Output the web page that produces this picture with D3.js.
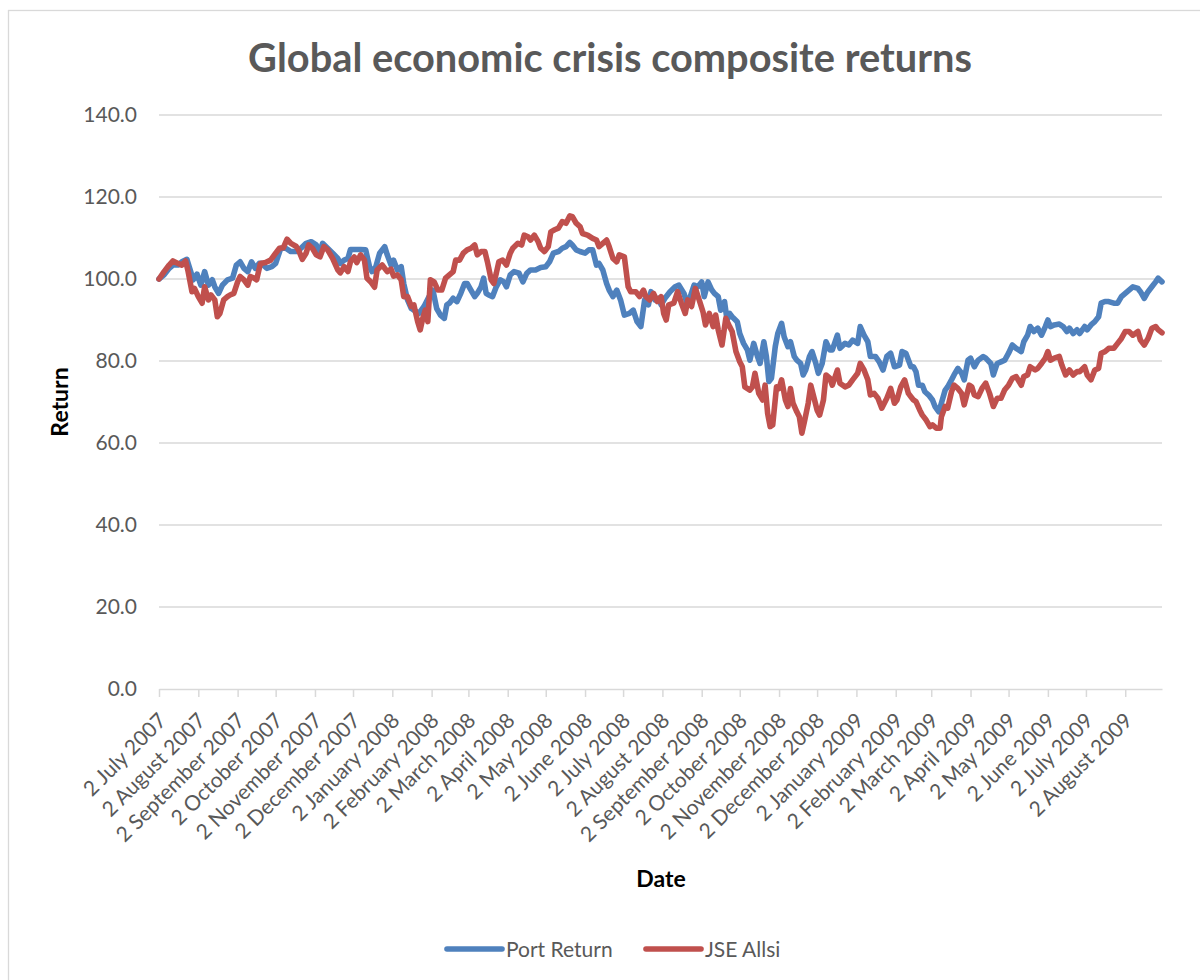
<!DOCTYPE html>
<html>
<head>
<meta charset="utf-8">
<script src="https://cdn.jsdelivr.net/npm/d3@7"></script>
<style>
  html, body { margin: 0; padding: 0; background: #fff; }
  svg { display: block; font-family: Lato, "Open Sans", sans-serif; }
</style>
</head>
<body>
<svg id="chart" width="1200" height="980"></svg>
<script>
// ---- data ----
const portDates = [
  "2007-07-02","2007-07-06","2007-07-10","2007-07-13","2007-07-17","2007-07-20","2007-07-24","2007-07-27","2007-07-29","2007-08-01",
  "2007-08-04","2007-08-07","2007-08-10","2007-08-13","2007-08-15","2007-08-18","2007-08-21","2007-08-25","2007-08-29","2007-09-01",
  "2007-09-04","2007-09-07","2007-09-10","2007-09-13","2007-09-16","2007-09-19","2007-09-21","2007-09-25","2007-09-29","2007-10-02",
  "2007-10-06","2007-10-10","2007-10-14","2007-10-18","2007-10-22","2007-10-26","2007-10-30","2007-11-03","2007-11-05","2007-11-08",
  "2007-11-12","2007-11-16","2007-11-20","2007-11-22","2007-11-25","2007-11-28","2007-11-30","2007-12-04","2007-12-08","2007-12-12",
  "2007-12-15","2007-12-17","2007-12-20","2007-12-23","2007-12-27","2007-12-29","2008-01-01","2008-01-03","2008-01-06","2008-01-09",
  "2008-01-11","2008-01-14","2008-01-17","2008-01-19","2008-01-23","2008-01-27","2008-01-31","2008-02-03","2008-02-06","2008-02-09",
  "2008-02-12","2008-02-14","2008-02-16","2008-02-19","2008-02-22","2008-02-25","2008-02-28","2008-03-01","2008-03-04","2008-03-07",
  "2008-03-09","2008-03-12","2008-03-14","2008-03-16","2008-03-18","2008-03-21","2008-03-24","2008-03-27","2008-03-30","2008-04-01",
  "2008-04-04","2008-04-07","2008-04-11","2008-04-14","2008-04-17","2008-04-20","2008-04-24","2008-04-28","2008-05-02","2008-05-05",
  "2008-05-08","2008-05-12","2008-05-15","2008-05-18","2008-05-21","2008-05-23","2008-05-26","2008-05-29","2008-06-02","2008-06-05",
  "2008-06-08","2008-06-11","2008-06-13","2008-06-16","2008-06-19","2008-06-21","2008-06-24","2008-06-27","2008-06-30","2008-07-03",
  "2008-07-07","2008-07-10","2008-07-13","2008-07-16","2008-07-19","2008-07-22","2008-07-24","2008-07-27","2008-07-30","2008-08-01",
  "2008-08-04","2008-08-08","2008-08-12","2008-08-15","2008-08-19","2008-08-21","2008-08-24","2008-08-27","2008-08-30","2008-09-02",
  "2008-09-04","2008-09-07","2008-09-10","2008-09-12","2008-09-15","2008-09-17","2008-09-20","2008-09-22","2008-09-24","2008-09-26",
  "2008-09-30","2008-10-02","2008-10-05","2008-10-08","2008-10-10","2008-10-13","2008-10-16","2008-10-18","2008-10-21","2008-10-23",
  "2008-10-25","2008-10-27","2008-10-30","2008-11-01","2008-11-04","2008-11-06","2008-11-09","2008-11-11","2008-11-14","2008-11-16",
  "2008-11-19","2008-11-21","2008-11-23","2008-11-26","2008-11-28","2008-12-01","2008-12-03","2008-12-06","2008-12-09","2008-12-12",
  "2008-12-14","2008-12-18","2008-12-20","2008-12-24","2008-12-27","2008-12-30","2009-01-03","2009-01-05","2009-01-08","2009-01-11",
  "2009-01-13","2009-01-17","2009-01-20","2009-01-23","2009-01-26","2009-01-29","2009-02-01","2009-02-05","2009-02-07","2009-02-10",
  "2009-02-14","2009-02-16","2009-02-18","2009-02-20","2009-02-23","2009-02-25","2009-02-28","2009-03-03","2009-03-05","2009-03-08",
  "2009-03-10","2009-03-13","2009-03-15","2009-03-18","2009-03-20","2009-03-23","2009-03-26","2009-03-28","2009-03-31","2009-04-02",
  "2009-04-05","2009-04-08","2009-04-12","2009-04-14","2009-04-18","2009-04-20","2009-04-23","2009-04-26","2009-04-29","2009-05-02",
  "2009-05-05","2009-05-08","2009-05-12","2009-05-14","2009-05-17","2009-05-19","2009-05-22","2009-05-25","2009-05-28","2009-05-31",
  "2009-06-02","2009-06-04","2009-06-07","2009-06-11","2009-06-14","2009-06-17","2009-06-19","2009-06-22","2009-06-25","2009-06-27",
  "2009-07-01","2009-07-03","2009-07-06","2009-07-09","2009-07-12","2009-07-14","2009-07-17","2009-07-20","2009-07-24","2009-07-27",
  "2009-07-30","2009-08-02","2009-08-05","2009-08-08","2009-08-12","2009-08-14","2009-08-17","2009-08-20","2009-08-23","2009-08-26",
  "2009-08-28","2009-08-31"
];
const portReturn = [
  100.0,101.0,102.6,103.4,103.4,104.2,104.8,101.8,99.8,101.2,
  98.5,101.8,98.5,99.8,98.1,96.5,98.5,99.8,100.2,103.4,
  104.2,102.6,101.8,104.2,102.6,103.8,103.8,102.6,103.0,103.8,
  107.5,107.5,106.7,106.7,107.5,108.7,109.1,108.3,105.9,108.7,
  107.5,106.3,105.0,103.8,104.6,105.0,107.2,107.2,107.2,107.1,
  103.0,101.8,103.0,106.3,107.9,105.9,103.4,104.6,102.2,103.0,
  98.9,94.9,92.8,92.4,91.6,93.3,95.7,97.3,92.8,91.2,
  90.4,93.7,94.1,95.3,94.5,96.5,98.9,98.9,97.3,95.7,
  96.5,98.1,100.2,96.5,96.1,95.7,98.1,99.8,99.3,98.1,
  101.0,101.8,101.4,99.3,101.4,102.2,102.2,102.8,103.0,104.2,
  106.3,106.7,107.5,107.9,108.9,108.3,107.1,106.7,106.3,107.1,
  107.1,103.4,103.8,102.2,98.9,97.3,95.7,97.3,94.9,91.2,
  91.6,92.4,89.6,88.4,94.9,93.7,96.9,94.9,95.3,93.7,
  95.3,96.9,98.1,98.5,96.5,94.5,95.7,98.5,98.1,99.3,
  95.7,99.3,97.3,96.5,95.7,92.4,94.5,90.0,91.6,90.8,
  89.6,86.7,84.3,82.7,80.2,84.3,81.1,79.4,84.7,81.1,
  75.0,75.8,83.5,86.7,89.2,85.9,83.5,84.7,81.1,80.2,
  79.4,76.6,77.8,81.1,82.3,79.4,77.0,79.4,84.7,82.7,
  82.7,86.3,83.1,84.3,83.9,85.1,84.3,88.4,86.3,84.7,
  81.1,81.1,79.8,77.8,81.1,81.9,78.6,79.0,82.3,81.9,
  78.6,78.6,77.4,74.1,74.1,72.5,71.7,70.5,68.9,67.6,
  69.7,72.9,73.7,75.4,76.6,78.2,77.0,75.4,80.2,80.7,
  78.6,80.2,81.1,80.7,79.4,76.6,79.4,79.8,80.2,81.9,
  83.9,83.1,82.3,84.7,86.3,88.4,87.2,88.0,86.3,88.4,
  90.0,88.4,88.8,89.0,88.4,87.2,88.0,86.7,87.6,86.7,
  88.4,87.6,88.8,89.6,90.8,94.1,94.5,94.5,94.1,94.1,
  95.7,96.5,97.3,98.1,97.7,96.9,95.3,96.9,98.1,99.3,
  100.2,99.3
];

const jseDates = [
  "2007-07-02","2007-07-06","2007-07-10","2007-07-13","2007-07-17","2007-07-20","2007-07-23","2007-07-25","2007-07-28","2007-07-30",
  "2007-08-02","2007-08-05","2007-08-07","2007-08-10","2007-08-12","2007-08-15","2007-08-17","2007-08-19","2007-08-22","2007-08-25",
  "2007-08-27","2007-08-30","2007-09-02","2007-09-04","2007-09-07","2007-09-10","2007-09-12","2007-09-15","2007-09-17","2007-09-20",
  "2007-09-24","2007-09-28","2007-10-02","2007-10-05","2007-10-08","2007-10-11","2007-10-14","2007-10-18","2007-10-20","2007-10-23",
  "2007-10-26","2007-10-28","2007-10-31","2007-11-03","2007-11-06","2007-11-09","2007-11-12","2007-11-16","2007-11-20","2007-11-22",
  "2007-11-25","2007-11-28","2007-11-30","2007-12-03","2007-12-05","2007-12-08","2007-12-11","2007-12-13","2007-12-16","2007-12-19",
  "2007-12-21","2007-12-25","2007-12-29","2008-01-01","2008-01-03","2008-01-06","2008-01-09","2008-01-11","2008-01-14","2008-01-17",
  "2008-01-19","2008-01-22","2008-01-24","2008-01-26","2008-01-28","2008-01-30","2008-02-01","2008-02-04","2008-02-07","2008-02-10",
  "2008-02-13","2008-02-16","2008-02-19","2008-02-21","2008-02-24","2008-02-27","2008-03-01","2008-03-04","2008-03-07","2008-03-09",
  "2008-03-12","2008-03-15","2008-03-17","2008-03-20","2008-03-22","2008-03-24","2008-03-26","2008-03-29","2008-04-01","2008-04-04",
  "2008-04-06","2008-04-10","2008-04-13","2008-04-15","2008-04-18","2008-04-20","2008-04-23","2008-04-26","2008-04-28","2008-05-01",
  "2008-05-04","2008-05-06","2008-05-09","2008-05-12","2008-05-15","2008-05-18","2008-05-21","2008-05-23","2008-05-26","2008-05-29",
  "2008-05-31","2008-06-04","2008-06-08","2008-06-11","2008-06-13","2008-06-16","2008-06-19","2008-06-21","2008-06-24","2008-06-27",
  "2008-06-29","2008-07-03","2008-07-06","2008-07-08","2008-07-12","2008-07-15","2008-07-18","2008-07-20","2008-07-23","2008-07-26",
  "2008-07-29","2008-08-01","2008-08-03","2008-08-05","2008-08-07","2008-08-11","2008-08-14","2008-08-17","2008-08-20","2008-08-22",
  "2008-08-25","2008-08-28","2008-08-31","2008-09-03","2008-09-05","2008-09-08","2008-09-11","2008-09-13","2008-09-15","2008-09-18",
  "2008-09-21","2008-09-24","2008-09-26","2008-09-29","2008-10-02","2008-10-04","2008-10-06","2008-10-10","2008-10-12","2008-10-14",
  "2008-10-17","2008-10-20","2008-10-22","2008-10-24","2008-10-26","2008-10-28","2008-10-31","2008-11-02","2008-11-04","2008-11-07",
  "2008-11-09","2008-11-11","2008-11-13","2008-11-16","2008-11-18","2008-11-20","2008-11-22","2008-11-25","2008-11-27","2008-11-30",
  "2008-12-02","2008-12-04","2008-12-07","2008-12-09","2008-12-12","2008-12-14","2008-12-18","2008-12-20","2008-12-24","2008-12-27",
  "2008-12-30","2009-01-03","2009-01-05","2009-01-08","2009-01-11","2009-01-13","2009-01-16","2009-01-19","2009-01-22","2009-01-26",
  "2009-01-29","2009-02-01","2009-02-03","2009-02-06","2009-02-09","2009-02-12","2009-02-14","2009-02-16","2009-02-18","2009-02-21",
  "2009-02-23","2009-02-26","2009-03-01","2009-03-03","2009-03-06","2009-03-09","2009-03-10","2009-03-13","2009-03-15","2009-03-18",
  "2009-03-20","2009-03-23","2009-03-26","2009-03-28","2009-04-01","2009-04-03","2009-04-05","2009-04-08","2009-04-11","2009-04-14",
  "2009-04-17","2009-04-20","2009-04-23","2009-04-26","2009-04-29","2009-05-02","2009-05-05","2009-05-08","2009-05-12","2009-05-14",
  "2009-05-17","2009-05-19","2009-05-23","2009-05-25","2009-05-28","2009-05-31","2009-06-02","2009-06-04","2009-06-07","2009-06-11",
  "2009-06-13","2009-06-16","2009-06-19","2009-06-22","2009-06-25","2009-06-27","2009-07-01","2009-07-03","2009-07-06","2009-07-09",
  "2009-07-12","2009-07-14","2009-07-17","2009-07-20","2009-07-24","2009-07-27","2009-07-30","2009-08-02","2009-08-05","2009-08-08",
  "2009-08-12","2009-08-14","2009-08-17","2009-08-20","2009-08-23","2009-08-26","2009-08-28","2009-08-31"
];
const jseAllsi = [
  100.0,101.8,103.4,104.4,103.8,103.4,104.4,101.8,96.9,97.7,
  95.7,94.1,98.1,94.9,96.1,94.9,90.8,91.6,94.9,95.7,
  96.1,96.5,99.3,100.6,99.8,98.5,100.6,100.2,99.8,103.8,
  104.0,104.6,106.3,107.5,107.6,109.7,108.7,108.0,107.1,104.8,
  106.3,108.3,107.5,105.9,105.4,107.9,107.1,105.0,102.2,101.5,
  103.0,101.8,104.2,105.4,104.0,105.9,104.6,100.2,99.3,98.0,
  102.2,103.4,101.8,102.4,100.7,101.0,99.8,95.7,95.7,93.3,
  93.7,89.6,87.6,90.4,92.4,89.6,99.8,99.3,97.3,97.3,
  100.2,101.0,101.8,104.6,104.6,106.3,107.1,107.5,108.3,105.9,
  106.7,106.7,104.2,99.8,98.9,101.4,104.2,104.6,103.4,106.3,
  107.5,108.7,108.3,110.7,110.3,109.5,110.7,109.1,107.5,106.7,
  107.9,111.5,112.0,112.4,114.0,113.6,115.4,115.2,113.6,112.8,
  111.1,110.7,109.9,109.5,107.9,108.7,109.5,107.9,105.0,104.2,
  105.9,105.4,98.1,96.9,96.9,95.7,97.3,95.7,94.9,96.5,
  94.5,95.7,91.6,90.0,93.7,94.1,96.9,94.1,91.6,94.9,
  93.3,97.7,94.9,92.0,88.8,91.6,88.4,91.2,87.6,83.9,
  90.4,88.4,87.2,82.3,79.8,78.6,73.7,72.9,73.7,77.0,
  72.1,70.5,74.1,67.2,64.0,64.4,73.7,73.3,75.4,70.5,
  68.9,73.3,69.7,67.6,66.4,62.4,65.2,69.7,74.1,70.5,
  68.0,66.8,70.5,76.6,75.8,74.1,77.8,74.6,73.7,74.1,
  75.4,77.0,79.4,77.8,75.4,71.7,72.1,70.9,68.5,70.9,
  73.3,69.7,70.5,73.7,75.4,72.1,71.3,70.5,70.1,68.0,
  66.8,65.6,64.0,64.4,63.6,63.6,66.4,68.9,68.5,72.5,
  74.1,73.3,72.1,69.3,74.1,73.7,71.7,71.3,73.3,74.6,
  72.1,68.9,70.9,70.9,73.0,74.1,75.8,76.2,74.1,76.2,
  76.6,78.6,77.8,78.2,79.4,80.7,82.3,80.2,80.7,81.1,
  79.0,76.6,77.8,76.6,77.4,77.4,78.6,76.6,75.4,77.8,
  78.2,81.9,82.3,83.1,83.1,84.3,85.5,87.2,87.2,86.3,
  87.2,85.1,83.9,85.5,88.0,88.4,87.6,86.9
];

const seriesNames = ["Port Return", "JSE Allsi"];
const seriesColors = ["#4F81BD", "#C0504D"];
const monthTicks = [
  "2007-07-02","2007-08-02","2007-09-02","2007-10-02","2007-11-02","2007-12-02",
  "2008-01-02","2008-02-02","2008-03-02","2008-04-02","2008-05-02","2008-06-02",
  "2008-07-02","2008-08-02","2008-09-02","2008-10-02","2008-11-02","2008-12-02",
  "2009-01-02","2009-02-02","2009-03-02","2009-04-02","2009-05-02","2009-06-02",
  "2009-07-02","2009-08-02"
];
const yTicks = [0, 20, 40, 60, 80, 100, 120, 140];
const dateRange = ["2007-07-02", "2009-08-31"];

// ---- layout ----
const W = 1200, H = 980;
const plot = { left: 159, right: 1162, top: 115, bottom: 689 };
const grey = "#595959", lineGrey = "#D9D9D9";

const parse = d3.timeParse("%Y-%m-%d");
const svg = d3.select("#chart");

svg.append("rect").attr("width", W).attr("height", H).attr("fill", "#fff");
// chart area border
svg.append("rect")
  .attr("x", 8.5).attr("y", 10.5).attr("width", W + 20).attr("height", H + 20)
  .attr("fill", "none").attr("stroke", lineGrey).attr("stroke-width", 1.3);

const x = d3.scaleTime()
  .domain(dateRange.map(parse))
  .range([plot.left, plot.right]);
const y = d3.scaleLinear()
  .domain([0, 140])
  .range([plot.bottom, plot.top]);

// horizontal gridlines
svg.append("g").selectAll("line")
  .data(yTicks.filter(v => v > 0))
  .join("line")
  .attr("x1", plot.left).attr("x2", plot.right)
  .attr("y1", d => y(d)).attr("y2", d => y(d))
  .attr("stroke", lineGrey).attr("stroke-width", 1.5);

// y axis labels
const yAxis = svg.append("g")
  .attr("transform", `translate(${plot.left},0)`)
  .call(d3.axisLeft(y).tickValues(yTicks).tickSize(0).tickPadding(22).tickFormat(d3.format(".1f")));
yAxis.select(".domain").remove();
yAxis.selectAll("text")
  .attr("fill", grey).attr("font-size", 21).attr("font-family", "Lato, sans-serif");

// x axis with monthly ticks
const xAxis = svg.append("g")
  .attr("transform", `translate(0,${plot.bottom})`)
  .call(d3.axisBottom(x)
    .tickValues(monthTicks.map(parse))
    .tickSize(8)
    .tickSizeOuter(0)
    .tickFormat(d3.timeFormat("%-d %B %Y")));
xAxis.select(".domain").attr("stroke", lineGrey).attr("stroke-width", 1.5);
xAxis.selectAll(".tick line").attr("stroke", lineGrey).attr("stroke-width", 1.5);
xAxis.selectAll("text")
  .attr("fill", grey).attr("font-size", 21).attr("font-family", "Lato, sans-serif")
  .attr("x", 0).attr("y", 0).attr("dy", 0)
  .attr("text-anchor", "end")
  .attr("transform", "translate(8,33) rotate(-45)");

// series lines
const series = [
  { name: seriesNames[0], color: seriesColors[0], dates: portDates, values: portReturn },
  { name: seriesNames[1], color: seriesColors[1], dates: jseDates, values: jseAllsi }
];
const line = d3.line()
  .x(d => x(d[0]))
  .y(d => y(d[1]));

svg.append("g").selectAll("path")
  .data(series)
  .join("path")
  .attr("d", s => line(d3.zip(s.dates.map(parse), s.values)))
  .attr("fill", "none")
  .attr("stroke", s => s.color)
  .attr("stroke-width", 5.6)
  .attr("stroke-linejoin", "round")
  .attr("stroke-linecap", "round");

// title
const title = svg.append("text")
  .attr("x", 610).attr("y", 72)
  .attr("text-anchor", "middle")
  .attr("font-weight", 700).attr("font-size", 34).attr("fill", grey)
  .text("Global economic crisis composite returns");
const tw = title.node().getComputedTextLength();
title.attr("font-size", 34 * 724 / tw);

// axis titles
svg.append("text")
  .attr("transform", `translate(68,${(plot.top + plot.bottom) / 2}) rotate(-90)`)
  .attr("text-anchor", "middle")
  .attr("font-weight", 700).attr("font-size", 23).attr("fill", "#000")
  .text("Return");
svg.append("text")
  .attr("x", 661).attr("y", 887)
  .attr("text-anchor", "middle")
  .attr("font-weight", 700).attr("font-size", 23).attr("fill", "#000")
  .text("Date");

// legend
const legendY = 949;
const legendX = [447, 646];
const legend = svg.append("g").selectAll("g")
  .data(series)
  .join("g")
  .attr("transform", (d, i) => `translate(${legendX[i]},${legendY})`);
legend.append("line")
  .attr("x1", 0).attr("x2", 55).attr("y1", 0).attr("y2", 0)
  .attr("stroke", d => d.color).attr("stroke-width", 5.6).attr("stroke-linecap", "round");
legend.append("text")
  .attr("x", 59).attr("y", 0).attr("dy", "0.36em")
  .attr("font-size", 21).attr("fill", grey)
  .text(d => d.name);
</script>
</body>
</html>
